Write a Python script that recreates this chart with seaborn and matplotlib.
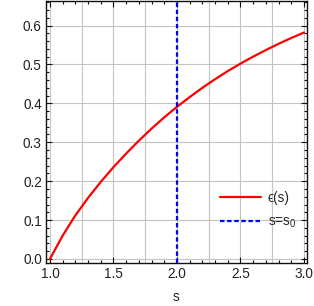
import numpy as np
import pandas as pd
import matplotlib
matplotlib.use("Agg")
import matplotlib.pyplot as plt
import seaborn as sns

# --- data -------------------------------------------------------------------
s_vals = [1.0, 1.1, 1.2, 1.3, 1.4, 1.5, 1.6, 1.7, 1.8, 1.9, 2.0,
          2.1, 2.2, 2.3, 2.4, 2.5, 2.6, 2.7, 2.8, 2.9, 3.0]
eps_vals = [0.000, 0.060, 0.112, 0.157, 0.198, 0.236, 0.271, 0.304, 0.335, 0.364, 0.391,
            0.416, 0.440, 0.462, 0.483, 0.502, 0.520, 0.537, 0.553, 0.568, 0.582]
s0 = 2.0

x_major = [1.0, 1.5, 2.0, 2.5, 3.0]
y_major = [0.0, 0.1, 0.2, 0.3, 0.4, 0.5, 0.6]
x_grid = [1.0, 1.25, 1.5, 1.75, 2.0, 2.25, 2.5, 2.75, 3.0]
y_grid = [0.0, 0.1, 0.2, 0.3, 0.4, 0.5, 0.6]

sns.set_theme(style="white")
plt.rcParams["font.family"] = ["Liberation Sans", "DejaVu Sans"]
plt.rcParams["mathtext.fontset"] = "custom"
plt.rcParams["mathtext.rm"] = "Liberation Sans"
plt.rcParams["mathtext.it"] = "Liberation Sans:italic"

df = pd.DataFrame({"s": s_vals, "eps": eps_vals})

fig = plt.figure(figsize=(3.14, 3.06), dpi=100)
ax = fig.add_axes([0.1465, 0.1405, 0.8312, 0.8562])

# grid lines (Mathematica style: x every 0.25, y every 0.1)
for gx in x_grid:
    ax.axvline(gx, color="#c4c4c4", lw=0.8, zorder=0)
for gy in y_grid:
    ax.axhline(gy, color="#c4c4c4", lw=0.8, zorder=0)

sns.lineplot(data=df, x="s", y="eps", ax=ax, color="#ff0000", lw=1.6,
             label="ϵ(s)", zorder=3)
ax.axvline(s0, color="#0000ff", lw=1.6, ls=(0, (2, 1.2)), label="s=s$_0$", zorder=4)

ax.set_xlim(0.969, 3.024)
ax.set_ylim(-0.0103, 0.663)

ax.set_xticks(x_major)
ax.set_xticklabels([f"{v:.1f}" for v in x_major])
ax.set_xticks(np.arange(1.0, 3.01, 0.1), minor=True)
ax.set_yticks(y_major)
ax.set_yticklabels([f"{v:.1f}" for v in y_major])
ax.set_yticks(np.arange(0.0, 0.661, 0.02), minor=True)

ax.tick_params(which="both", direction="in", top=True, right=True,
               bottom=True, left=True, colors="#111111", labelcolor="#222222",
               labelsize=9.8, width=0.8)
ax.tick_params(which="major", length=4, pad=3)
ax.tick_params(which="minor", length=2.2)

for sp in ax.spines.values():
    sp.set_visible(True)
    sp.set_color("#111111")
    sp.set_linewidth(1.0)

ax.set_xlabel("s", fontsize=9.8, color="#222222", labelpad=6)
ax.set_ylabel("")

ax.legend(loc="center left", bbox_to_anchor=(0.667, 0.2), frameon=False,
          fontsize=9.8, handlelength=3.0, handletextpad=0.5,
          labelspacing=0.75, borderpad=0, borderaxespad=0)

fig.savefig("out.png", dpi=100)
